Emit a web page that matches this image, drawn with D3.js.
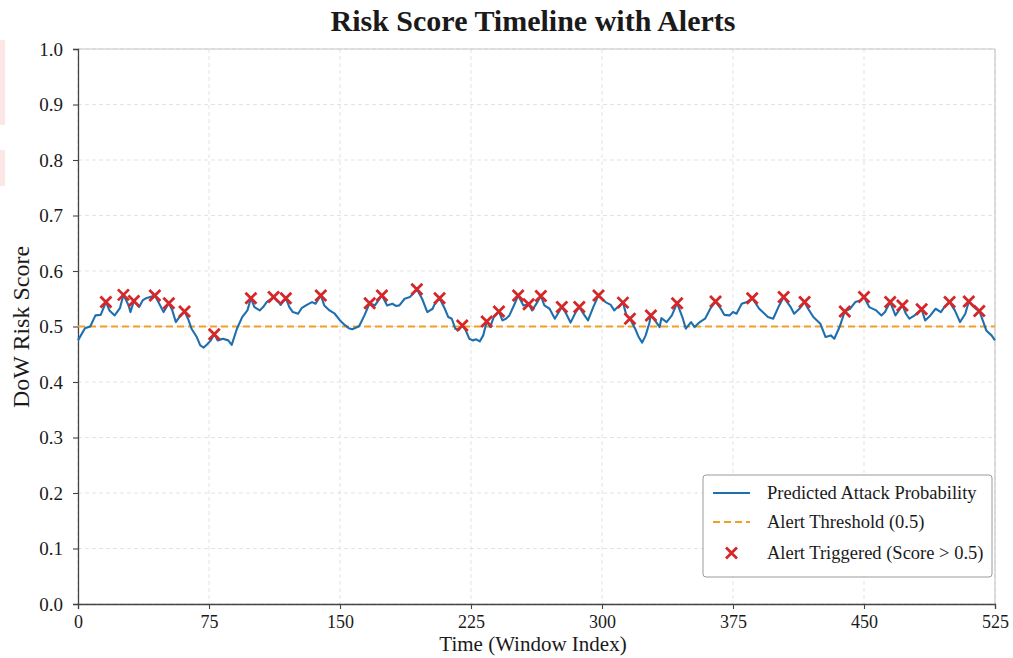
<!DOCTYPE html>
<html>
<head>
<meta charset="utf-8">
<script src="https://cdn.jsdelivr.net/npm/d3@7/dist/d3.min.js"></script>
<style>
  html, body { margin: 0; padding: 0; background: #fff; }
  svg { display: block; }
  text { font-family: "Liberation Serif", "Times New Roman", serif; fill: #1a1a1a; }
</style>
</head>
<body>
<svg id="chart" width="1013" height="658"></svg>
<script>
// Window index and predicted DoW risk score
const windowIndex = [0,4,7,10,13,16,18,21,24,26,29,30,32,35,37,39,44,46,49,52,54,56,58,61,63,65,68,70,72,74,76,78,80,83,86,88,91,94,97,99,101,
  104,106,108,112,115,116,119,121,123,126,128,131,134,136,139,141,144,147,150,153,155,157,160,161,164,167,170,174,177,180,182,184,187,190,194,197,200,203,204,207,
  210,212,214,216,218,220,222,224,226,228,230,232,234,236,238,241,243,245,247,250,252,255,258,260,263,265,267,270,273,277,279,282,285,287,290,292,295,298,302,305,307,309,312,314,316,
  319,321,323,325,327,328,331,333,334,337,340,343,346,348,351,353,356,359,362,365,368,370,373,375,377,380,383,386,390,392,395,398,401,404,408,410,413,416,418,421,
  425,428,431,433,436,439,442,445,448,450,453,457,460,462,465,468,472,474,476,479,483,485,488,491,494,496,499,502,505,508,510,514,516,518,520,523,525];
const riskScore = [0.475,0.497,0.500,0.520,0.521,0.544,0.529,0.520,0.533,0.557,0.538,0.526,0.546,0.535,0.547,0.551,0.556,0.544,0.526,0.542,0.529,0.508,0.517,0.527,0.514,0.496,0.481,0.466,0.462,0.468,0.475,0.486,0.475,0.478,0.475,0.467,0.496,0.517,0.529,0.551,0.535,
  0.529,0.535,0.544,0.553,0.544,0.539,0.551,0.535,0.526,0.523,0.533,0.539,0.544,0.541,0.556,0.538,0.529,0.523,0.511,0.502,0.497,0.495,0.499,0.501,0.520,0.542,0.538,0.556,0.538,0.541,0.537,0.538,0.550,0.553,0.567,0.550,0.526,0.532,0.539,0.551,
  0.532,0.517,0.514,0.496,0.494,0.502,0.493,0.478,0.475,0.477,0.473,0.484,0.509,0.499,0.517,0.527,0.511,0.514,0.520,0.541,0.556,0.538,0.540,0.529,0.544,0.555,0.538,0.532,0.514,0.535,0.526,0.507,0.526,0.535,0.520,0.511,0.535,0.556,0.544,0.539,0.529,0.535,0.543,0.520,0.514,
  0.496,0.481,0.471,0.484,0.505,0.520,0.508,0.499,0.515,0.508,0.520,0.542,0.517,0.496,0.508,0.499,0.508,0.514,0.532,0.545,0.532,0.521,0.520,0.526,0.523,0.541,0.544,0.551,0.532,0.526,0.517,0.514,0.535,0.553,0.535,0.523,0.532,0.544,0.532,0.517,
  0.505,0.481,0.484,0.478,0.499,0.527,0.532,0.544,0.547,0.553,0.535,0.529,0.520,0.526,0.544,0.520,0.538,0.523,0.514,0.520,0.531,0.511,0.520,0.532,0.526,0.535,0.544,0.529,0.508,0.523,0.545,0.532,0.528,0.511,0.493,0.484,0.475];

// Windows where an alert fired
const alertIndex = [16,26,32,44,52,61,78,99,112,119,139,167,174,194,207,220,234,241,252,258,265,277,287,298,312,316,328,343,365,386,404,416,439,450,465,472,483,499,510,516];

const threshold = 0.5;
const xTicks = [0,75,150,225,300,375,450,525];
const yTicks = [0,0.1,0.2,0.3,0.4,0.5,0.6,0.7,0.8,0.9,1.0];
const legendLabels = ["Predicted Attack Probability", "Alert Threshold (0.5)", "Alert Triggered (Score > 0.5)"];

const svg = d3.select("#chart");
const m = { left: 78, right: 995, top: 49, bottom: 604 };

const x = d3.scaleLinear().domain([0, 525]).range([m.left, m.right]);
const y = d3.scaleLinear().domain([0, 1]).range([m.bottom, m.top]);

// faint marks along the left edge
svg.append("rect").attr("x", 0).attr("y", 40).attr("width", 5).attr("height", 85).attr("fill", "#fde6e6");
svg.append("rect").attr("x", 0).attr("y", 150).attr("width", 5).attr("height", 36).attr("fill", "#fde6e6");

// grid
const grid = svg.append("g");
grid.selectAll("line.gx").data(xTicks).join("line")
  .attr("x1", d => x(d)).attr("x2", d => x(d))
  .attr("y1", m.top).attr("y2", m.bottom)
  .attr("stroke", "#dcdcdc").attr("stroke-width", 0.8).attr("stroke-dasharray", "4,3");
grid.selectAll("line.gy").data(yTicks).join("line")
  .attr("x1", m.left).attr("x2", m.right)
  .attr("y1", d => y(d)).attr("y2", d => y(d))
  .attr("stroke", "#dcdcdc").attr("stroke-width", 0.8).attr("stroke-dasharray", "4,3");

// top / right frame (light)
svg.append("line").attr("x1", m.left).attr("x2", m.right).attr("y1", m.top).attr("y2", m.top)
  .attr("stroke", "#c8c8c8").attr("stroke-width", 1.2);
svg.append("line").attr("x1", m.right).attr("x2", m.right).attr("y1", m.top).attr("y2", m.bottom)
  .attr("stroke", "#c8c8c8").attr("stroke-width", 1.2);

// axes
const xAxis = svg.append("g").attr("transform", `translate(0,${m.bottom})`)
  .call(d3.axisBottom(x).tickValues(xTicks).tickFormat(d3.format("d")).tickSize(5).tickPadding(6));
const yAxis = svg.append("g").attr("transform", `translate(${m.left},0)`)
  .call(d3.axisLeft(y).tickValues(yTicks).tickFormat(d3.format(".1f")).tickSize(5).tickPadding(10));
[xAxis, yAxis].forEach(a => {
  a.select(".domain").attr("stroke", "#444").attr("stroke-width", 1.3);
  a.selectAll(".tick line").attr("stroke", "#444").attr("stroke-width", 1.1);
  a.selectAll("text").attr("font-size", 19).attr("fill", "#1a1a1a")
    .attr("font-family", "'Liberation Serif', 'Times New Roman', serif");
});
xAxis.selectAll("text").attr("font-size", 18);

// threshold
svg.append("line")
  .attr("x1", x(0)).attr("x2", x(525)).attr("y1", y(threshold)).attr("y2", y(threshold))
  .attr("stroke", "#f2a024").attr("stroke-width", 2).attr("stroke-dasharray", "7,4");

// risk line
const pts = windowIndex.map((d, i) => [d, riskScore[i]]);
svg.append("path").datum(pts)
  .attr("fill", "none").attr("stroke", "#1f6fae").attr("stroke-width", 2.1)
  .attr("stroke-linejoin", "round")
  .attr("d", d3.line().x(d => x(d[0])).y(d => y(d[1])));

// alert markers
const scoreAt = idx => riskScore[windowIndex.indexOf(idx)];
const cross = (g, cx, cy, r) => {
  g.append("path")
    .attr("d", `M${cx - r},${cy - r}L${cx + r},${cy + r}M${cx - r},${cy + r}L${cx + r},${cy - r}`)
    .attr("stroke", "#d62728").attr("stroke-width", 2.8).attr("fill", "none");
};
const mk = svg.append("g");
alertIndex.forEach(i => cross(mk, x(i), y(scoreAt(i)), 5.5));

// title & axis labels
svg.append("text").attr("x", 533).attr("y", 31).attr("text-anchor", "middle")
  .attr("font-size", 30).attr("font-weight", "bold").attr("fill", "#111")
  .text("Risk Score Timeline with Alerts");
svg.append("text").attr("x", 533).attr("y", 651).attr("text-anchor", "middle")
  .attr("font-size", 21).text("Time (Window Index)");
svg.append("text").attr("transform", "translate(29,327) rotate(-90)").attr("text-anchor", "middle")
  .attr("font-size", 24).text("DoW Risk Score");

// legend
const lg = svg.append("g");
lg.append("rect").attr("x", 703).attr("y", 475).attr("width", 289).attr("height", 102)
  .attr("rx", 3).attr("fill", "#fff").attr("fill-opacity", 0.9)
  .attr("stroke", "#9a9a9a").attr("stroke-width", 1);
const rowY = [493, 522, 553];
lg.append("line").attr("x1", 713).attr("x2", 750).attr("y1", rowY[0]).attr("y2", rowY[0])
  .attr("stroke", "#1f6fae").attr("stroke-width", 2.1);
lg.append("line").attr("x1", 713).attr("x2", 750).attr("y1", rowY[1]).attr("y2", rowY[1])
  .attr("stroke", "#f2a024").attr("stroke-width", 2).attr("stroke-dasharray", "7,4");
cross(lg, 731.5, rowY[2], 5.5);
legendLabels.forEach((t, i) => {
  lg.append("text").attr("x", 767).attr("y", rowY[i] + 6).attr("font-size", 18.5).text(t);
});
</script>
</body>
</html>
